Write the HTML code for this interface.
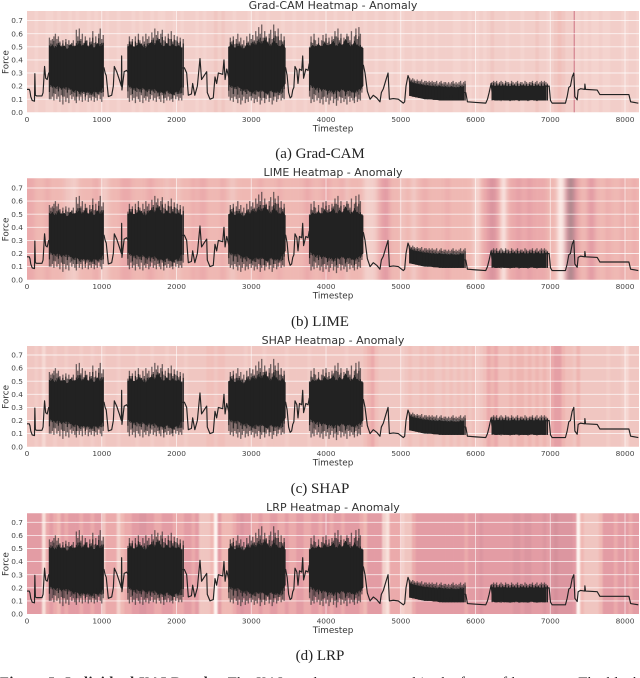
<!DOCTYPE html>
<html lang="en">
<head>
<meta charset="utf-8">
<title>Individual XAI Results</title>
<style>
html,body{margin:0;padding:0;background:#fff;width:640px;height:678px;overflow:hidden}
svg{display:block;position:absolute;left:0;top:0}
#plots{filter:blur(0.35px)}
.tick{font:7.4px "DejaVu Sans",sans-serif;fill:#444}
.axis-label{font:8.8px "DejaVu Sans",sans-serif;fill:#333}
.title{font:11px "DejaVu Sans",sans-serif;fill:#333}
.caption{font:15px "Liberation Serif",serif;fill:#222}
.footer{font:14.5px "Liberation Serif",serif;fill:#222}
</style>
</head>
<body>
<svg id="fig" width="640" height="678" viewBox="0 0 640 678" xmlns="http://www.w3.org/2000/svg">
  <g id="plots"></g>
  <text class="caption" x="320" y="158" text-anchor="middle">(a) Grad-CAM</text>
  <text class="caption" x="320" y="326" text-anchor="middle">(b) LIME</text>
  <text class="caption" x="320" y="493" text-anchor="middle">(c) SHAP</text>
  <text class="caption" x="320" y="660" text-anchor="middle">(d) LRP</text>
  <text class="footer" x="0" y="687" textLength="640"><tspan font-weight="bold">Figure 5: Individual XAI Results.</tspan> The XAI results are presented in the form of heatmaps. The black</text>
</svg>
<script>
// ---------- tick labels ----------
const xTicks = [0, 1000, 2000, 3000, 4000, 5000, 6000, 7000, 8000];
const yTicks = [0.0, 0.1, 0.2, 0.3, 0.4, 0.5, 0.6, 0.7];
const panelTitles = ["Grad-CAM Heatmap - Anomaly", "LIME Heatmap - Anomaly", "SHAP Heatmap - Anomaly", "LRP Heatmap - Anomaly"];

// ---------- quiet part of the force trace ----------
const lineT = [0,30,40,50,70,100,105,112,130,200,215,225,235,250,270,290,
 1030,1045,1060,1088,1133,1155,1168,1200,1235,1262,1266,1270,1300,1333,1355,
 2105,2136,2158,2200,2216,2245,2279,2314,2335,2404,2412,2448,2492,2515,2537,2560,2618,2635,2650,2672,2702,
 3460,3480,3500,3520,3540,3555,3570,3585,3610,3625,3645,3675,3688,3700,3730,3760,3775,
 4500,4522,4553,4589,4633,4678,4722,4740,4767,4803,4830,4848,4900,4967,5034,5052,5070,5097,5110,5125,
 5865,5870,5892,6003,6137,6160,6182,6209,6222,
 6985,7003,7025,7203,7226,7248,7270,7293,7315,7329,7360,7373,7405,7460,7463,7472,7628,7664,8052,8075,8178];
const lineF = [.175,.175,.16,.12,.09,.085,.295,.13,.125,.125,.15,.25,.35,.26,.25,.3,
 .34,.30,.28,.12,.13,.2,.35,.31,.25,.2,.43,.17,.31,.32,.3,
 .34,.3,.13,.14,.22,.13,.2,.41,.25,.31,.15,.1,.11,.27,.22,.3,.29,.4,.25,.33,.26,
 .34,.28,.15,.11,.12,.17,.19,.35,.32,.22,.33,.32,.43,.26,.33,.32,.37,
 .36,.3,.16,.1,.13,.11,.08,.15,.18,.25,.3,.1,.105,.1,.07,.08,.2,.28,.26,.2,
 .15,.15,.08,.075,.07,.1,.15,.22,.15,
 .2,.09,.07,.07,.12,.19,.2,.27,.3,.12,.095,.17,.18,.175,.215,.175,.17,.135,.135,.08,.07];

// ---------- oscillating bursts: first timestep of each ----------
const burstStarts = [300, 1350, 2700, 3780, 5120, 6222];

const burst1High = [.57,.55,.56,.58,.60,.56,.58,.54,.51,.55,.49,.56,.52,.55,.50,.53,.55,.51,.63,.58,.64,.56,.60,.53,.58,.55,.51,.57,.54,.62,.53,.58,.50,.60,.64,.56,.59];
const burst1Low = [.10,.10,.12,.09,.14,.10,.12,.08,.13,.06,.12,.08,.11,.07,.13,.10,.12,.09,.07,.12,.09,.12,.08,.14,.09,.13,.08,.11,.09,.12,.08,.11,.09,.13,.10,.08,.12];
const burst1CoreHigh = [.50,.51,.49,.52,.50,.51,.48,.52,.50,.51,.53,.50,.54,.50,.52,.49,.53,.50,.52];
const burst1CoreLow = [.21,.20,.19,.20,.18,.19,.19,.18,.16,.17,.15,.16,.15,.16,.14,.16,.15,.16,.19];

const burst2High = [.52,.58,.54,.56,.50,.58,.53,.60,.55,.52,.58,.54,.60,.56,.58,.53,.61,.57,.64,.59,.62,.56,.60,.63,.55,.58,.52,.60,.56,.62,.54,.59,.55,.58,.53,.57,.50,.56];
const burst2Low = [.11,.08,.13,.09,.11,.07,.12,.10,.08,.13,.07,.11,.09,.12,.08,.10,.13,.09,.11,.08,.12,.10,.08,.13,.07,.11,.09,.12,.09,.10,.08,.13,.10,.12,.09,.11,.09,.13];
const burst2CoreHigh = [.50,.52,.50,.51,.53,.50,.49,.52,.54,.51,.56,.52,.50,.53,.50,.52,.50,.51,.49];
const burst2CoreLow = [.21,.19,.18,.19,.17,.19,.16,.18,.17,.18,.15,.16,.14,.17,.15,.13,.16,.15,.20];

const burst3High = [.50,.57,.54,.58,.52,.56,.60,.54,.57,.52,.55,.51,.58,.54,.60,.56,.59,.55,.62,.58,.65,.60,.67,.57,.62,.58,.54,.60,.63,.56,.67,.62,.58,.64,.55,.60,.54,.58];
const burst3Low = [.12,.09,.11,.08,.12,.10,.07,.11,.06,.09,.12,.07,.10,.08,.12,.09,.11,.07,.10,.08,.12,.06,.09,.11,.07,.10,.13,.08,.11,.06,.09,.12,.08,.10,.13,.09,.11,.10];
const burst3CoreHigh = [.50,.52,.49,.51,.50,.48,.52,.50,.53,.51,.54,.52,.56,.53,.50,.55,.52,.50,.52,.49];
const burst3CoreLow = [.21,.20,.19,.20,.18,.17,.18,.16,.15,.17,.16,.17,.15,.14,.17,.15,.16,.15,.19,.22];

const burst4High = [.50,.58,.53,.60,.55,.52,.57,.50,.55,.59,.54,.60,.53,.57,.51,.58,.56,.62,.58,.64,.55,.60,.52,.57,.54,.60,.58,.55,.62,.52,.58,.64,.56,.65,.60,.50];
const burst4Low = [.12,.07,.10,.08,.13,.09,.11,.07,.10,.06,.12,.08,.11,.06,.09,.12,.07,.10,.05,.09,.12,.07,.11,.08,.10,.06,.12,.08,.11,.09,.07,.12,.08,.10,.09,.15];
const burst4CoreHigh = [.49,.51,.50,.52,.50,.53,.51,.52,.54,.50,.53,.51,.56,.52,.50,.54,.51,.50,.49];
const burst4CoreLow = [.21,.20,.18,.19,.17,.18,.16,.17,.15,.17,.16,.18,.15,.17,.16,.15,.17,.18,.20];

const burst5High = [.26,.25,.26,.25,.24,.25,.24,.24,.25,.23,.24,.24,.23,.24,.23,.24,.23,.23,.24,.22,.23,.24,.22,.23,.23,.22,.23,.22,.23,.24,.22,.23,.22,.23,.24,.22,.23,.24];
const burst5Low = [.125,.125,.12,.12,.115,.115,.11,.11,.11,.105,.105,.105,.10,.10,.10,.10,.10,.095,.095,.095,.095,.095,.09,.09,.09,.09,.09,.09,.09,.09,.09,.09,.09,.09,.09,.09,.09,.09];
const burst5CoreHigh = [.235,.225,.22,.215,.21,.205,.205,.20,.20,.195,.20,.195,.195,.19,.195,.19,.19,.195,.195];
const burst5CoreLow = [.125,.12,.115,.11,.105,.10,.10,.10,.095,.095,.09,.09,.09,.09,.09,.09,.09,.09,.09];

const burst6High = [.23,.24,.23,.24,.22,.23,.24,.23,.22,.24,.23,.23,.22,.24,.23,.22,.23,.24,.22,.23,.23,.22,.24,.23,.22,.23,.23,.24,.22,.23,.24,.22,.23,.24,.23,.24,.23,.22];
const burst6Low = [.09,.095,.09,.09,.095,.09,.085,.09,.09,.095,.09,.09,.085,.09,.095,.09,.09,.09,.085,.09,.095,.09,.09,.09,.085,.09,.09,.095,.09,.09,.085,.09,.09,.095,.09,.09,.09,.09];
const burst6CoreHigh = [.205,.20,.205,.20,.205,.20,.20,.205,.20,.20,.205,.20,.20,.205,.20,.205,.20,.20,.205];
const burst6CoreLow = [.095,.09,.09,.095,.09,.09,.09,.09,.095,.09,.09,.09,.09,.095,.09,.09,.09,.09,.09];

// ---------- attribution heat, one value per 50 timesteps (0 = weak, 9 = strong) ----------
const gradcamHeat = [
 2.2,2.2,1.8,2.2,2.2,1.8,1.8,2.2,1.8,2.2,2.2,1.8,2.2,1.8,2.2,2.2,1.8,2.2,1.8,2.2,
 2.2,1.8,2.2,2.2,1.8,2.2,2.2,2.2,1.8,2.2,1.8,2.2,2.2,1.8,2.2,1.8,1.8,2.2,2.2,1.8,
 2.2,1.8,2.2,2.2,2.2,1.8,2.2,1.8,2.2,2.2,2.9,2.2,2.9,2.2,2.2,1.8,2.2,2.2,2.2,1.8,
 2.2,1.8,2.2,2.2,1.8,2.2,2.2,2.2,1.8,2.2,2.2,1.8,2.2,2.2,1.8,2.2,2.2,1.8,2.2,2.2,
 2.2,2.2,1.8,2.2,2.2,1.8,2.2,1.8,2.2,2.2,1.8,2.2,2.2,1.8,2.2,2.2,1.8,1.8,2.2,1.8,
 1.8,2.2,2.2,1.8,2.2,2.2,1.8,2.2,2.2,1.8,2.2,2.2,2.2,2.2,1.8,1.8,2.2,2.2,1.8,2.2,
 1.8,2.2,1.8,2.2,2.9,2.2,2.2,2.2,1.8,2.2,2.2,2.2,1.8,2.2,2.2,2.2,2.9,2.2,2.2,1.8,
 2.2,2.9,3.5,2.9,2.2,2.2,1.8,1.8,2.2,1.8,2.2,1.8,1.8,2.2,1.8,1.8,2.2,2.2,2.2,1.8,
 1.8,2.2,2.2,1.8];
const limeHeat = [
 5,5,4,4,4,5,4,4,4,4,3,3,2,3,4,4,4,4,5,4,
 2,3,4,4,4,5,5,5,4,4,4,4,5,5,4,4,4,3,4,4,
 3,4,4,4,5,4,5,5,4,4,4,4,5,4,3,3,4,4,4,4,
 4,4,5,4,4,4,4,5,4,4,4,4,4,4,5,5,4,4,4,5,
 5,4,4,4,5,3,4,4,4,4,2,2,2,3,5,6,6,4,4,4,
 3,4,4,2,4,4,5,4,4,4,4,4,5,4,4,4,4,4,4,3,
 1,4,5,6,7,6,4,0,4,5,5,6,5,5,6,5,5,5,5,4,
 4,4,0,1,7,9,7,5,4,4,6,6,4,4,4,5,4,4,4,5,
 4,4,5,4];
const shapHeat = [
 2.9,2.9,2.4,2.9,1.5,2.9,2.9,2.4,2.9,2.9,2.4,2.9,2.9,2.9,2.4,2.9,2.9,2.4,2.9,2.9,
 2.4,2.9,2.9,2.9,2.4,2.9,2.9,2.9,2.9,2.4,2.9,2.9,2.9,2.4,2.9,2.9,2.9,2.4,2.9,2.9,
 2.9,2.9,2.4,2.9,2.9,2.9,2.9,2.9,3.5,3.5,2.9,3.5,3.5,2.9,2.9,2.9,2.9,2.9,2.4,2.9,
 2.9,2.9,2.9,2.4,2.9,2.9,2.9,2.9,2.9,2.4,2.9,2.9,2.9,2.9,2.9,2.4,2.9,2.9,2.9,2.9,
 2.9,2.9,2.9,2.9,2.9,2.4,2.9,2.9,2.9,2.9,3.5,4.2,5,3.5,2.9,2.9,2.9,2.9,2.9,2.9,
 2.4,2.9,3.5,2.9,2.9,3.5,2.9,3.5,3.5,2.9,2.9,3.5,2.9,3.5,2.9,3.5,2.9,3.5,2.9,3.5,
 2.4,2.9,3.5,5,4.2,5,3.5,3.5,3.5,4.2,3.5,4.2,4.2,3.5,4.2,3.5,4.2,3.5,4.2,3.5,
 5,5.8,5.8,4.2,3.5,3.5,2.9,4.2,2.9,2.9,2.9,2.9,2.9,2.9,2.9,2.4,2.9,2.9,2.9,2.4,
 1.5,2.9,2.9,2.9];
const lrpHeat = [
 6,6,6,6,1,5,6,5,4,6,5,6,6,6,5,6,6,5,6,6,
 3,5,5,5,2,4,5,5,6,6,6.5,6.5,6,6,5,5,6,6,6,5,
 5,5,6,6,5,6,3,3,3,4,0,6,4,4,4,5,6,6.5,6,6,
 5,5,6,5,5,6,6,5,5,6,5,5,6,6,5,5,6,6,5,6,
 6,5,6,6,5,6,6,6,6,5,4,6,6,6,6,2,1,5,5,5,
 2,3,3,5,6,6,6,6,6,6,6,6,6,6,6,6,6,5,6,6,
 6,6.5,6,6,6,6,6,6,6,6,6.5,6.5,6,6.5,6.5,6,6,6,6.5,6,
 6.5,7,6.5,6.5,6.5,6.5,6,0,4,3,3,3,3,4,6,6,6,5,6,6,
 6,5,6,6];
const gradcamPeakTimestep = [7320];

// ---------- axis functions and layout ----------
const NS = "http://www.w3.org/2000/svg";
const plots = document.getElementById("plots");
const plotLeft = 27, plotRight = 639, xMax = 8187, pxPerForce = 131;
const panelTops = [11, 178.3, 346, 513.3];
const panelBottoms = [112.3, 279.7, 446.7, 614];
const titleY = [9, 176, 344, 511];
const heatBlur = [0.5, 2, 0.9, 0.7];
const colorStops = [[253,244,240],[248,224,218],[243,208,203],[240,197,192],[239,184,179],[235,170,171],[227,156,164],[213,144,155],[192,135,146],[160,133,137]];
const cellSpan = 50, highStep = 20, coreStep = 40, spikeReach = 0.5;

const allHeat = [gradcamHeat, limeHeat, shapHeat, lrpHeat];
const panelKeys = ["grad-cam", "lime", "shap", "lrp"];
const burstHighs = [burst1High, burst2High, burst3High, burst4High, burst5High, burst6High];
const burstLows = [burst1Low, burst2Low, burst3Low, burst4Low, burst5Low, burst6Low];
const burstCoreHighs = [burst1CoreHigh, burst2CoreHigh, burst3CoreHigh, burst4CoreHigh, burst5CoreHigh, burst6CoreHigh];
const burstCoreLows = [burst1CoreLow, burst2CoreLow, burst3CoreLow, burst4CoreLow, burst5CoreLow, burst6CoreLow];

function xScale(t) { return plotLeft + t / xMax * (plotRight - plotLeft); }
function yScale(f, p) { return panelBottoms[p] - f * pxPerForce; }
function heatColor(v) {
  const lo = Math.floor(v), hi = Math.min(lo + 1, 9), w = v - lo;
  const c = colorStops[lo].map(function (ch, i) { return Math.round(ch + (colorStops[hi][i] - ch) * w); });
  return "rgb(" + c.join(",") + ")";
}
function make(tag, parent, attrs) {
  const el = document.createElementNS(NS, tag);
  for (const k in attrs) el.setAttribute(k, attrs[k]);
  parent.appendChild(el);
  return el;
}

panelTops.forEach(function (top, p) {
  const bottom = panelBottoms[p];
  const g = make("g", plots, {});
  
  

  const clip = make("clipPath", g, { id: "clip" + p });
  make("rect", clip, { x: plotLeft, y: top, width: plotRight - plotLeft, height: bottom - top });

  const heatClip = make("g", g, { "clip-path": "url(#clip" + p + ")" });
  
  
  const heat = make("g", heatClip, { style: "filter:blur(" + heatBlur[p] + "px)" });
  
  

  // heat cells
  allHeat[p].forEach(function (v, i) {
    const x0 = i === 0 ? plotLeft - 8 : xScale(i * cellSpan);
    const x1 = i === allHeat[p].length - 1 ? plotRight + 8 : xScale((i + 1) * cellSpan);
    const cell = make("rect", heat, { x: x0, y: top - 8, width: x1 - x0 + 0.3, height: bottom - top + 16, fill: heatColor(v) });
    
    
  });
  if (p === 0) {
    gradcamPeakTimestep.forEach(function (t) {
      const peak = make("rect", g, { x: xScale(t) - 0.5, y: top, width: 1, height: bottom - top, fill: "#cc7080" });
      
      
    });
  }

  // grid
  yTicks.forEach(function (f) {
    if (f === 0) return;
    const gl = make("line", g, { x1: plotLeft, x2: plotRight, y1: yScale(f, p), y2: yScale(f, p), stroke: "#fff", "stroke-opacity": 0.75, "stroke-width": 0.9 });
    
    
  });
  xTicks.forEach(function (t) {
    if (t === 0) return;
    const gl = make("line", g, { x1: xScale(t), x2: xScale(t), y1: top, y2: bottom, stroke: "#fff", "stroke-opacity": 0.65, "stroke-width": 0.9 });
    
    
  });

  // trace line
  const pts = lineT.map(function (t, i) { return xScale(t).toFixed(2) + "," + yScale(lineF[i], p).toFixed(2); }).join(" ");
  const trace = make("polyline", g, { points: pts, fill: "none", stroke: "#222", "stroke-width": 1.15, "stroke-linejoin": "round" });
  
  

  // bursts
  burstStarts.forEach(function (start, b) {
    let d = "", spikes = "";
    burstHighs[b].forEach(function (hi, i) {
      const x = xScale(start + i * highStep).toFixed(2);
      const lo = burstLows[b][i];
      d += "M" + x + " " + yScale(hi, p).toFixed(2) + "V" + yScale(lo, p).toFixed(2);
      const ci = Math.min(Math.floor(i / 2), burstCoreHighs[b].length - 1);
      const cHi = burstCoreHighs[b][ci], cLo = burstCoreLows[b][ci];
      const reachHi = i % 2 ? spikeReach : spikeReach * 0.3;
      const reachLo = i % 3 ? spikeReach * 0.3 : spikeReach;
      spikes += "M" + x + " " + yScale(cHi + (hi - cHi) * reachHi, p).toFixed(2) + "V" + yScale(cLo - (cLo - lo) * reachLo, p).toFixed(2);
    });
    const env = make("path", g, { d: d, fill: "none", stroke: "#3c3536", "stroke-opacity": 0.72, "stroke-width": 1.3 });
    
    

    const upper = burstCoreHighs[b].map(function (f, i) { return xScale(start + i * coreStep).toFixed(2) + "," + yScale(f, p).toFixed(2); });
    const lower = burstCoreLows[b].map(function (f, i) { return xScale(start + i * coreStep).toFixed(2) + "," + yScale(f, p).toFixed(2); }).reverse();
    const core = make("polygon", g, { points: upper.concat(lower).join(" "), fill: "#222" });
    
    

    const spike = make("path", g, { d: spikes, fill: "none", stroke: "#222", "stroke-width": 1.1 });
    
    
  });

  // y tick labels
  yTicks.forEach(function (f) {
    const lb = make("text", g, { class: "tick", x: 23, y: yScale(f, p) + 2.6, "text-anchor": "end" });
    
    
    lb.textContent = f.toFixed(1);
  });
  // x tick labels
  xTicks.forEach(function (t) {
    const lb = make("text", g, { class: "tick", x: xScale(t), y: bottom + 9.5, "text-anchor": "middle" });
    
    
    lb.textContent = String(t);
  });

  const xTitle = make("text", g, { class: "axis-label", x: 333, y: bottom + 19, "text-anchor": "middle" });
  
  
  xTitle.textContent = "Timestep";

  const yc = (top + bottom) / 2 + 0.5;
  const yTitle = make("text", g, { class: "axis-label", x: 8.5, y: yc, "text-anchor": "middle", transform: "rotate(-90 8.5 " + yc + ")" });
  
  
  yTitle.textContent = "Force";

  const title = make("text", g, { class: "title", x: 333, y: titleY[p], "text-anchor": "middle" });
  
  
  title.textContent = panelTitles[p];
});
</script>
</body>
</html>
